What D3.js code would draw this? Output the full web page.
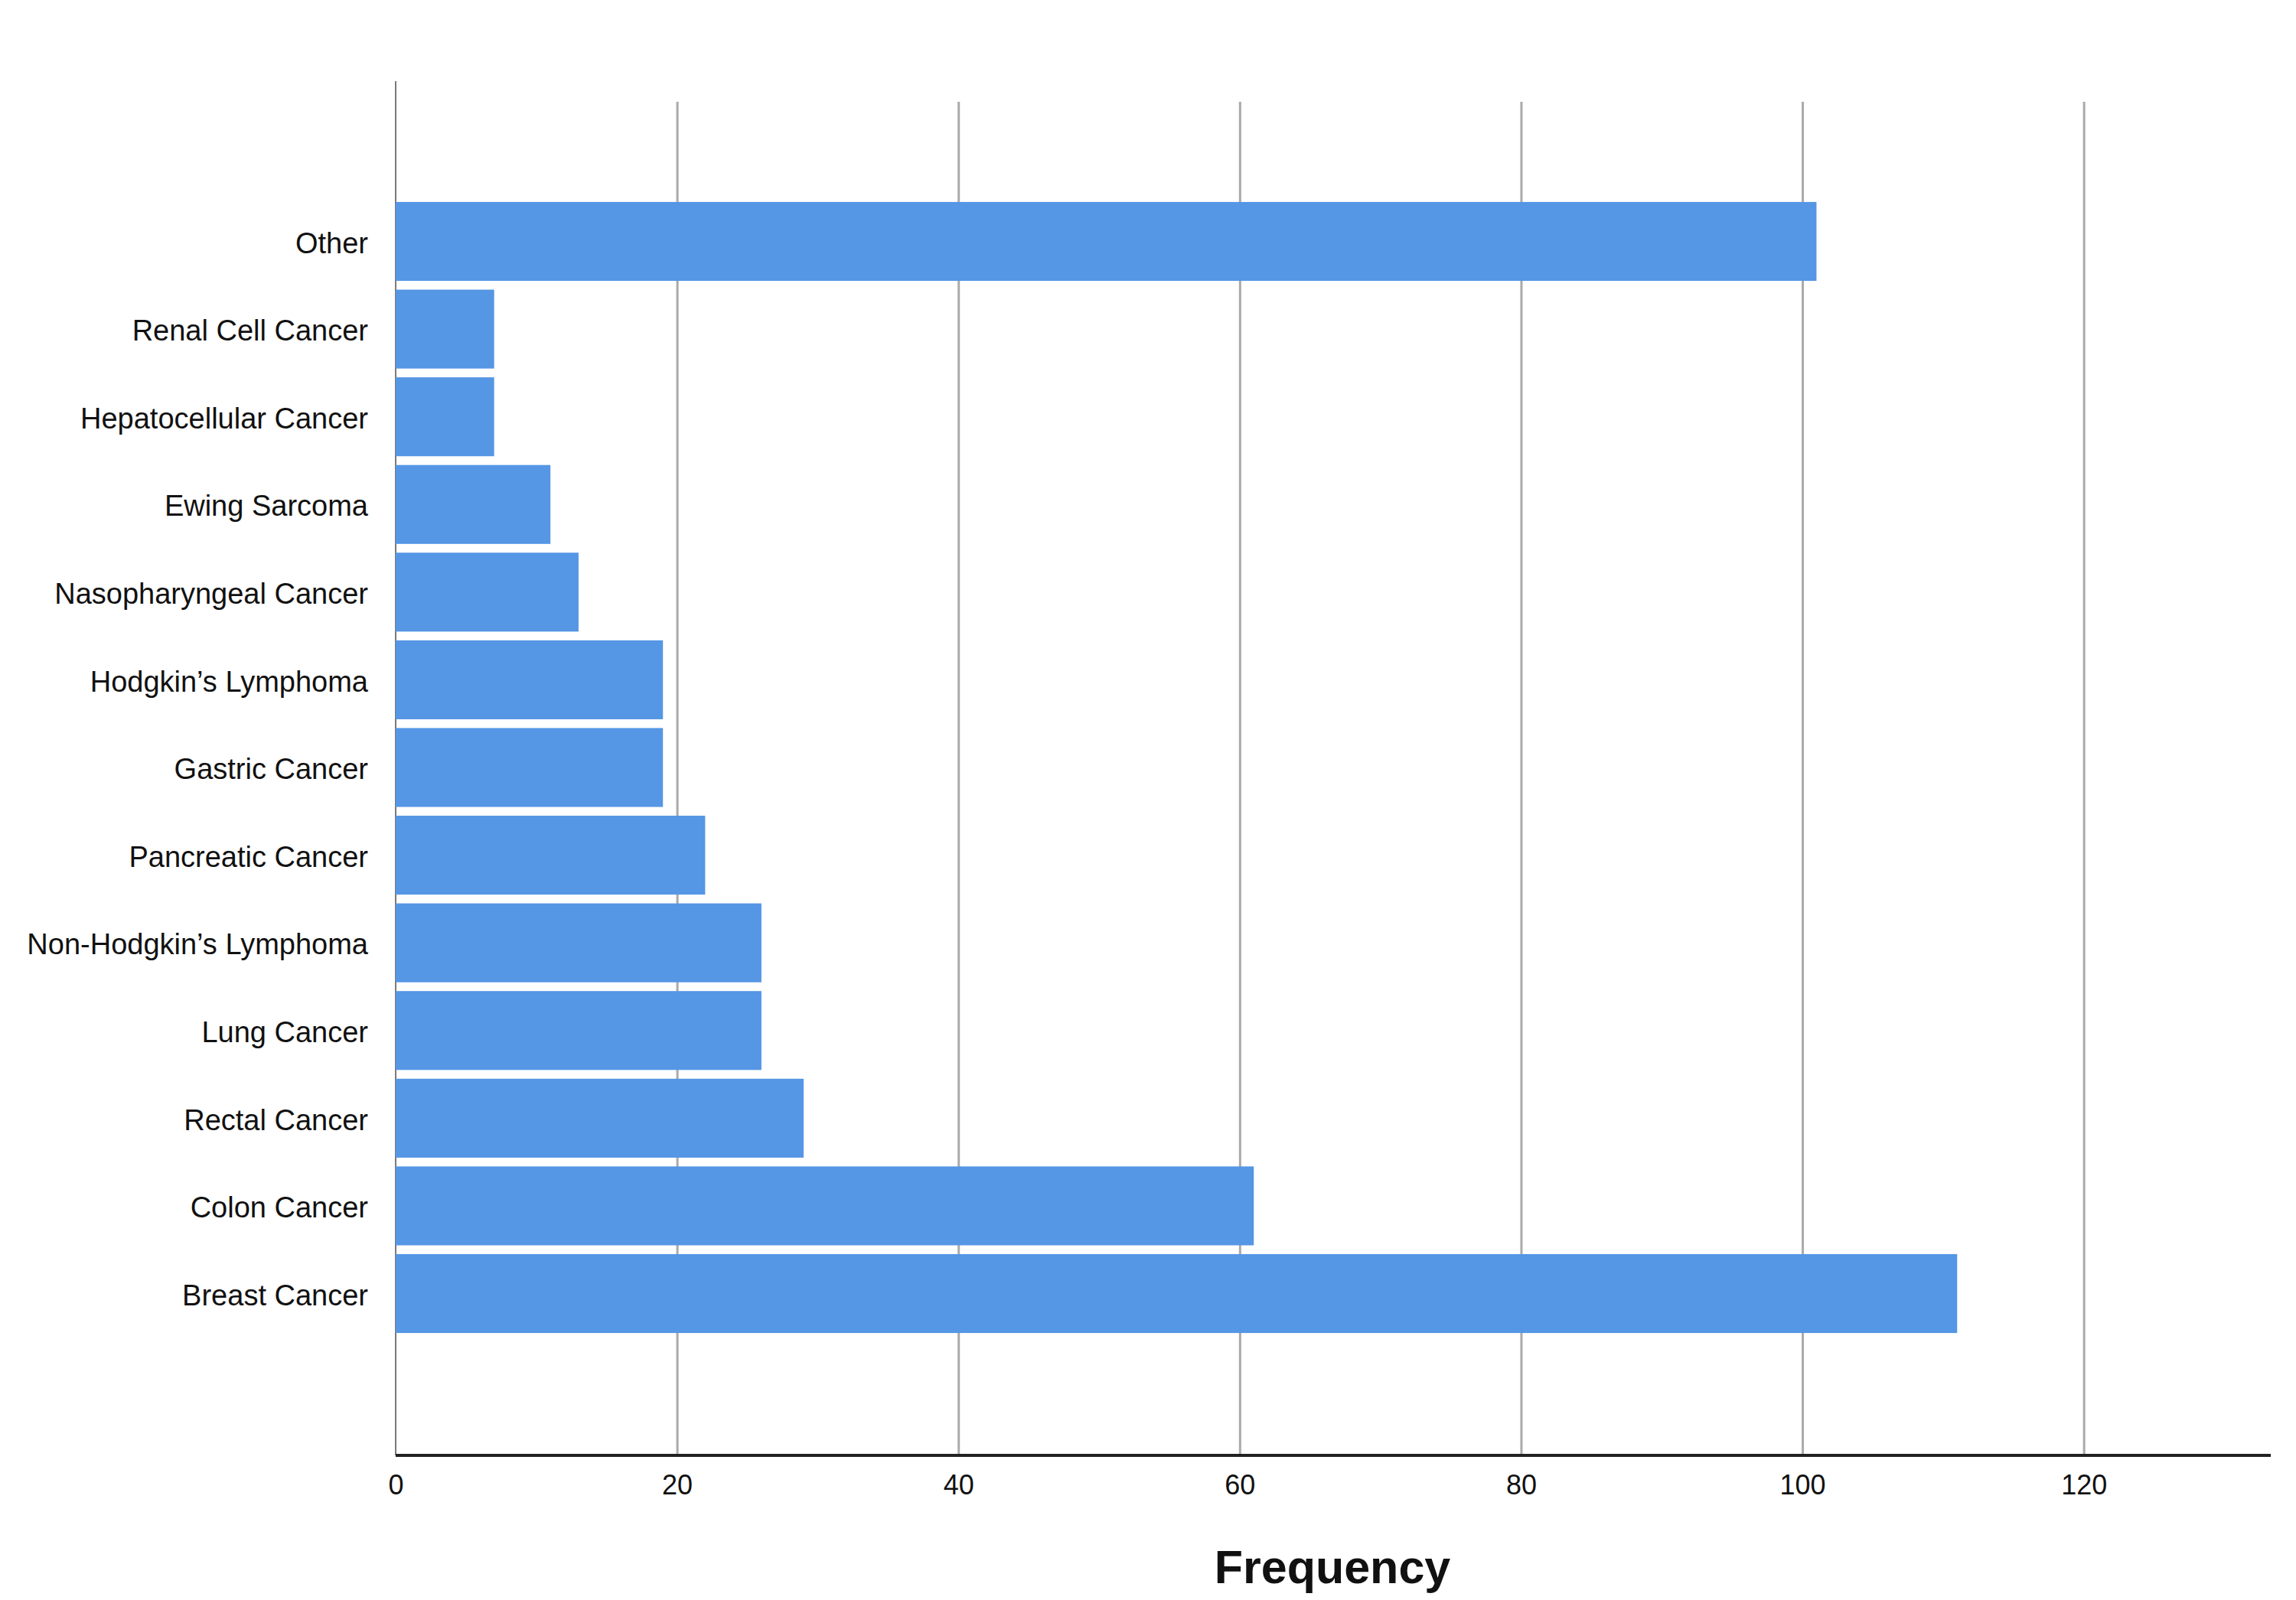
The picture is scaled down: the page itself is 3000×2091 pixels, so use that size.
<!DOCTYPE html>
<html>
<head>
<meta charset="utf-8">
<script src="https://cdn.jsdelivr.net/npm/d3@7"></script>
<style>
  html, body { margin: 0; padding: 0; background: #fff; }
  svg { display: block; }
  text { font-family: "Liberation Sans", Arial, sans-serif; }
</style>
</head>
<body>
<svg id="chart" width="3000" height="2091"></svg>
<script>
// ---- data ----
const categories = [
  "Other",
  "Renal Cell Cancer",
  "Hepatocellular Cancer",
  "Ewing Sarcoma",
  "Nasopharyngeal Cancer",
  "Hodgkin\u2019s Lymphoma",
  "Gastric Cancer",
  "Pancreatic Cancer",
  "Non-Hodgkin\u2019s Lymphoma",
  "Lung Cancer",
  "Rectal Cancer",
  "Colon Cancer",
  "Breast Cancer"
];
const frequencies = [101, 7, 7, 11, 13, 19, 19, 22, 26, 26, 29, 61, 111];
const xTicks = [0, 20, 40, 60, 80, 100, 120];
const xTitle = "Frequency";

// ---- layout ----
const left = 517, axisRight = 2967, axisY = 1902, axisTop = 106, gridTop = 133;

const svg = d3.select("#chart");

const x = d3.scaleLinear().domain([0, 134]).range([left, 2980]);
const y = d3.scaleBand()
  .domain(categories)
  .range([258.2, 1747.8])
  .paddingInner(0.1)
  .paddingOuter(0.05);

// gridlines
const grid = svg.append("g")
  .attr("transform", `translate(0,${axisY})`)
  .call(d3.axisBottom(x).tickValues(xTicks.filter(d => d > 0)).tickSize(-(axisY - gridTop)).tickFormat(""));
grid.select(".domain").remove();
grid.selectAll("line").attr("stroke", "#aaaaaa").attr("stroke-width", 3);

// left axis line
svg.append("line")
  .attr("x1", x(0)).attr("x2", x(0))
  .attr("y1", axisTop).attr("y2", axisY)
  .attr("stroke", "#7a7a7a").attr("stroke-width", 2);

// bars
svg.append("g").selectAll("rect")
  .data(categories)
  .join("rect")
  .attr("x", x(0))
  .attr("y", d => y(d))
  .attr("width", (d, i) => x(frequencies[i]) - x(0))
  .attr("height", y.bandwidth())
  .attr("fill", "#5596e5");

// bottom axis
const xa = svg.append("g")
  .attr("transform", `translate(0,${axisY})`)
  .call(d3.axisBottom(x).tickValues(xTicks).tickSize(0).tickPadding(25));
xa.select(".domain").remove();
xa.selectAll("text")
  .attr("font-family", "Liberation Sans, Arial, sans-serif")
  .attr("font-size", 36).attr("fill", "#111");

svg.append("line")
  .attr("x1", x(0)).attr("x2", axisRight)
  .attr("y1", axisY).attr("y2", axisY)
  .attr("stroke", "#222").attr("stroke-width", 4);

// y axis labels
const ya = svg.append("g")
  .attr("transform", `translate(${x(0)},3)`)
  .call(d3.axisLeft(y).tickSize(0).tickPadding(36));
ya.select(".domain").remove();
ya.selectAll("text")
  .attr("font-family", "Liberation Sans, Arial, sans-serif")
  .attr("font-size", 38).attr("fill", "#111");

// x title
svg.append("text")
  .attr("x", 1741).attr("y", 2069)
  .attr("text-anchor", "middle")
  .attr("font-size", 61).attr("font-weight", "bold")
  .attr("fill", "#111")
  .text(xTitle);
</script>
</body>
</html>
